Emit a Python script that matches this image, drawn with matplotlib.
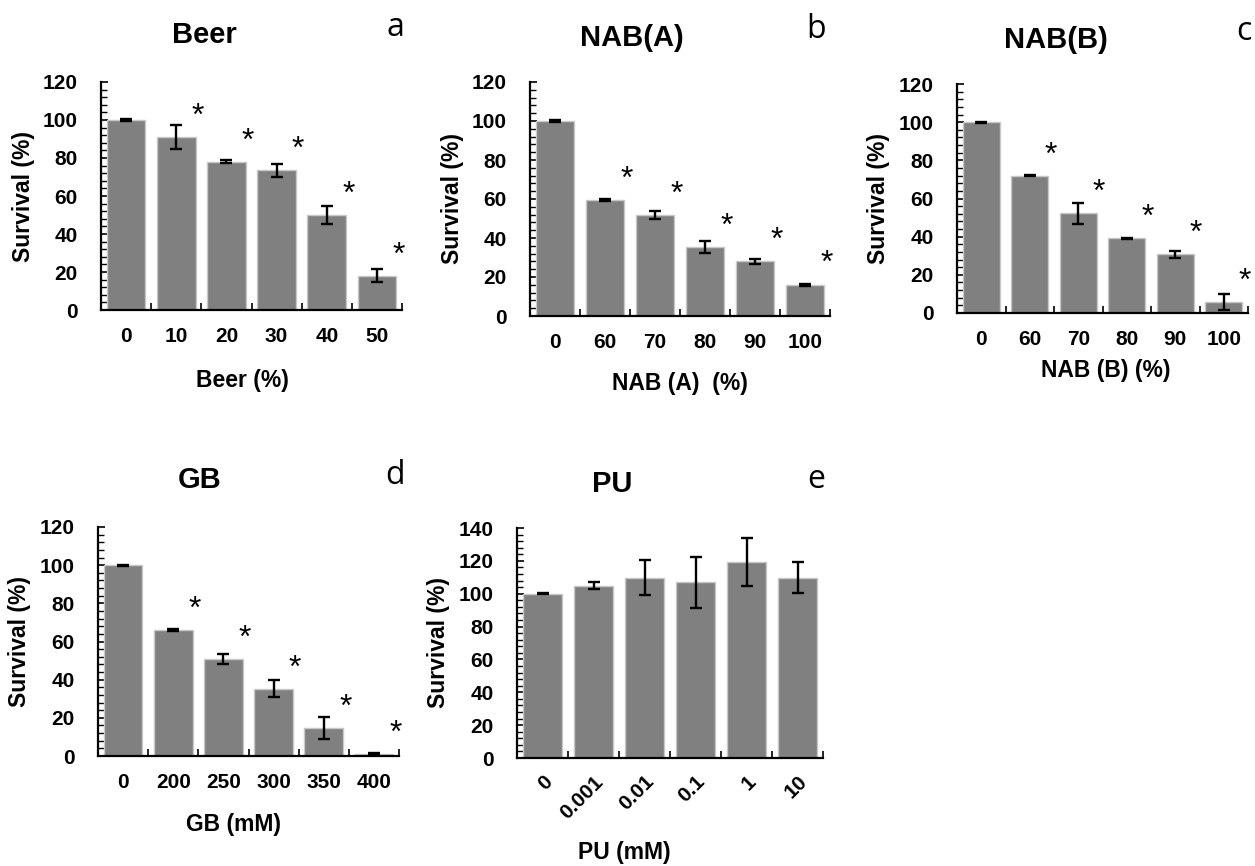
import matplotlib
matplotlib.use("Agg")
import matplotlib.pyplot as plt
import numpy as np
from matplotlib.ticker import MultipleLocator, FixedLocator

plt.rcParams['font.family'] = ['Liberation Sans', 'DejaVu Sans']

# data
beer_x = ['0', '10', '20', '30', '40', '50']
beer_mean = [100, 91, 78, 73.5, 50, 18]
beer_err = [0.3, 6.2, 0.8, 3.4, 4.6, 3.5]

naba_x = ['0', '60', '70', '80', '90', '100']
naba_mean = [100, 59.5, 51.6, 35.4, 28, 16]
naba_err = [0.3, 0.3, 2.0, 3.2, 1.3, 0.4]

nabb_x = ['0', '60', '70', '80', '90', '100']
nabb_mean = [100, 72, 52.3, 39.2, 30.8, 6]
nabb_err = [0.3, 0.4, 5.5, 0.3, 1.8, 4.2]

gb_x = ['0', '200', '250', '300', '350', '400']
gb_mean = [100, 66, 50.7, 35.3, 14.7, 1.2]
gb_err = [0.3, 0.3, 2.6, 4.4, 5.8, 0.3]

pu_x = ['0', '0.001', '0.01', '0.1', '1', '10']
pu_mean = [100, 105, 109.7, 107, 119.4, 109.8]
pu_err = [0.3, 2.0, 10.7, 15.5, 14.5, 9.5]

sig_top = [False, True, True, True, True, True]
sig_none = [False] * 6

W, H = 1255, 866
fig = plt.figure(figsize=(W / 100, H / 100), dpi=100)


def px(x, y):
    return x / W, 1 - y / H


def panel(box, cats, mean, err, sig, ymax, title, letter, xlabel,
          title_xy, letter_xy, xlabel_xy, rotate=False):
    l, t, r, b = box
    ax = fig.add_axes([l / W, 1 - b / H, (r - l) / W, (b - t) / H])
    x = np.arange(len(cats))
    ax.bar(x, mean, width=0.77, color='#808080', edgecolor='#c8c8c8',
           linewidth=1, zorder=2)
    ax.errorbar(x, mean, yerr=err, fmt='none', ecolor='black',
                elinewidth=1.7, capsize=4, capthick=1.7, zorder=3)
    for xi, m, s in zip(x, mean, sig):
        if s:
            ax.text(xi + 0.43, m + 10.5, '*', ha='center', va='center',
                    fontsize=23, color='black')
    ax.set_xlim(-0.5, len(cats) - 0.5)
    ax.set_ylim(0, ymax)
    ax.spines['top'].set_visible(False)
    ax.spines['right'].set_visible(False)
    ax.spines['left'].set_linewidth(1.6)
    ax.spines['bottom'].set_linewidth(1.6)
    ax.yaxis.set_major_locator(MultipleLocator(20))
    ax.yaxis.set_minor_locator(MultipleLocator(4))
    ax.tick_params(axis='y', which='major', direction='in', length=5,
                   width=1.2, pad=17, labelsize=15)
    ax.tick_params(axis='y', which='minor', direction='in', length=4,
                   width=1.0)
    for lab in ax.get_yticklabels():
        lab.set_fontweight('bold')
    ax.set_xticks(x)
    ax.xaxis.set_minor_locator(FixedLocator(np.arange(len(cats)) + 0.5))
    ax.tick_params(axis='x', which='minor', direction='in', length=5,
                   width=1.2)
    if rotate:
        ax.set_xticklabels(cats, rotation=45, ha='right', va='top',
                           rotation_mode='anchor', fontweight='bold',
                           fontsize=15)
        ax.tick_params(axis='x', which='major', length=0, pad=10)
    else:
        ax.set_xticklabels(cats, fontweight='bold', fontsize=15)
        ax.tick_params(axis='x', which='major', length=0, pad=12)
    ax.text(-78 / (r - l), 0.5, 'Survival (%)', transform=ax.transAxes,
            rotation=90, ha='center', va='center', fontsize=16.5,
            fontweight='bold')
    fig.text(*px(*title_xy), title, ha='center', va='center', fontsize=21,
             fontweight='bold')
    fig.text(*px(*letter_xy), letter, ha='center', va='center', fontsize=23,
             family=['Open Sans', 'DejaVu Sans'])
    fig.text(*px(*xlabel_xy), xlabel, ha='center', va='center',
             fontsize=16.5, fontweight='bold')
    return ax


panel((101, 82, 402, 310), beer_x, beer_mean, beer_err, sig_top, 120,
      'Beer', 'a', 'Beer (%)', (204, 35), (395, 28), (242, 380))
panel((530, 82, 830, 316), naba_x, naba_mean, naba_err, sig_top, 120,
      'NAB(A)', 'b', 'NAB (A)  (%)', (632, 38), (816, 30), (680, 383))
panel((957, 84, 1248, 313), nabb_x, nabb_mean, nabb_err, sig_top, 120,
      'NAB(B)', 'c', 'NAB (B) (%)', (1056, 40), (1244, 32), (1106, 371))
panel((98, 527, 399, 756), gb_x, gb_mean, gb_err, sig_top, 120,
      'GB', 'd', 'GB (mM)', (200, 480), (395, 476), (233, 825))
panel((517, 528, 823, 758), pu_x, pu_mean, pu_err, sig_none, 140,
      'PU', 'e', 'PU (mM)', (612, 484), (816, 480), (624, 853), rotate=True)

fig.savefig('out.png', dpi=100)
